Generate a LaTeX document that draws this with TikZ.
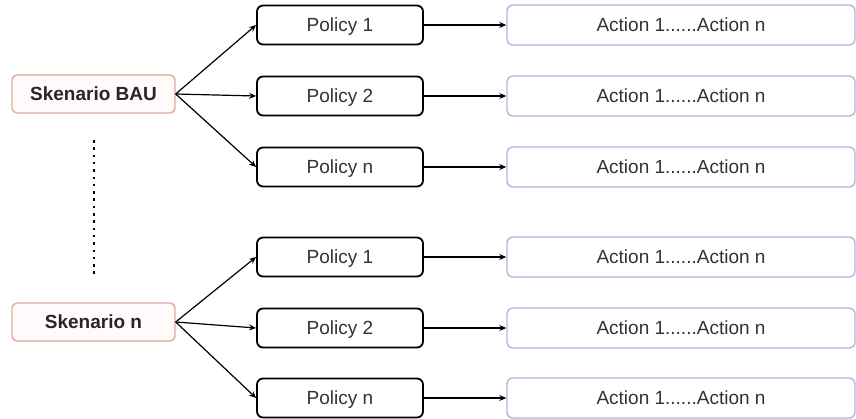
\documentclass[tikz,border=0pt]{standalone}
\usepackage{fontspec}
\setmainfont{Liberation Sans}
\usepackage{xcolor}
\usepackage{tikz}
\usetikzlibrary{arrows.meta}

\definecolor{scenline}{HTML}{E2A69E}
\definecolor{scenfill}{HTML}{FFFBFA}
\definecolor{actline}{HTML}{AFB7E0}
\definecolor{txt}{HTML}{333333}

\begin{document}
\begin{tikzpicture}[x=1pt, y=-1pt,
    every node/.style={font=\fontsize{19}{22}\selectfont, text=txt, inner sep=0pt, text height=13.6pt, text depth=0pt},
    scen/.style={rectangle, rounded corners=5pt, draw=scenline, fill=scenfill, line width=1.4pt, minimum width=163pt, minimum height=38pt, font=\fontsize{19}{22}\selectfont\bfseries, text=black!85},
    policy/.style={rectangle, rounded corners=6pt, draw=black, fill=white, line width=1.8pt, minimum width=166pt, minimum height=39pt},
    action/.style={rectangle, rounded corners=6pt, draw=actline, fill=white, line width=1.4pt, minimum width=348pt, minimum height=40pt},
    link/.style={line width=1.2pt, -{Stealth[length=7pt, width=6pt]}}]
  \useasboundingbox (0,0) rectangle (856,418);

  % Draw nodes
  \node[scen] (SB) at (93.5, 94) {Skenario BAU};
  \node[scen] (SN) at (93.5, 322) {Skenario n};

  \node[policy] (P1) at (340, 25) {Policy 1};
  \node[policy] (P2) at (340, 96) {Policy 2};
  \node[policy] (P3) at (340, 167) {Policy n};
  \node[policy] (Q1) at (340, 257) {Policy 1};
  \node[policy] (Q2) at (340, 328) {Policy 2};
  \node[policy] (Q3) at (340, 398) {Policy n};

  \node[action] (A1) at (681, 25) {Action 1......Action n};
  \node[action] (A2) at (681, 96) {Action 1......Action n};
  \node[action] (A3) at (681, 167) {Action 1......Action n};
  \node[action] (B1) at (681, 257) {Action 1......Action n};
  \node[action] (B2) at (681, 328) {Action 1......Action n};
  \node[action] (B3) at (681, 398) {Action 1......Action n};

  \coordinate (D1) at (94, 140);
  \coordinate (D2) at (94, 276);

  % Draw edges
  \draw[link] (SB.east) -- (P1.west);
  \draw[link] (SB.east) -- (P2.west);
  \draw[link] (SB.east) -- (P3.west);
  \draw[link] (SN.east) -- (Q1.west);
  \draw[link] (SN.east) -- (Q2.west);
  \draw[link] (SN.east) -- (Q3.west);

  \draw[link] (P1) -- (A1);
  \draw[link] (P2) -- (A2);
  \draw[link] (P3) -- (A3);
  \draw[link] (Q1) -- (B1);
  \draw[link] (Q2) -- (B2);
  \draw[link] (Q3) -- (B3);

  % Dotted separator
  \draw[line width=2.5pt, dash pattern=on 2.5pt off 4.8pt] (D1) -- (D2);
\end{tikzpicture}
\end{document}
